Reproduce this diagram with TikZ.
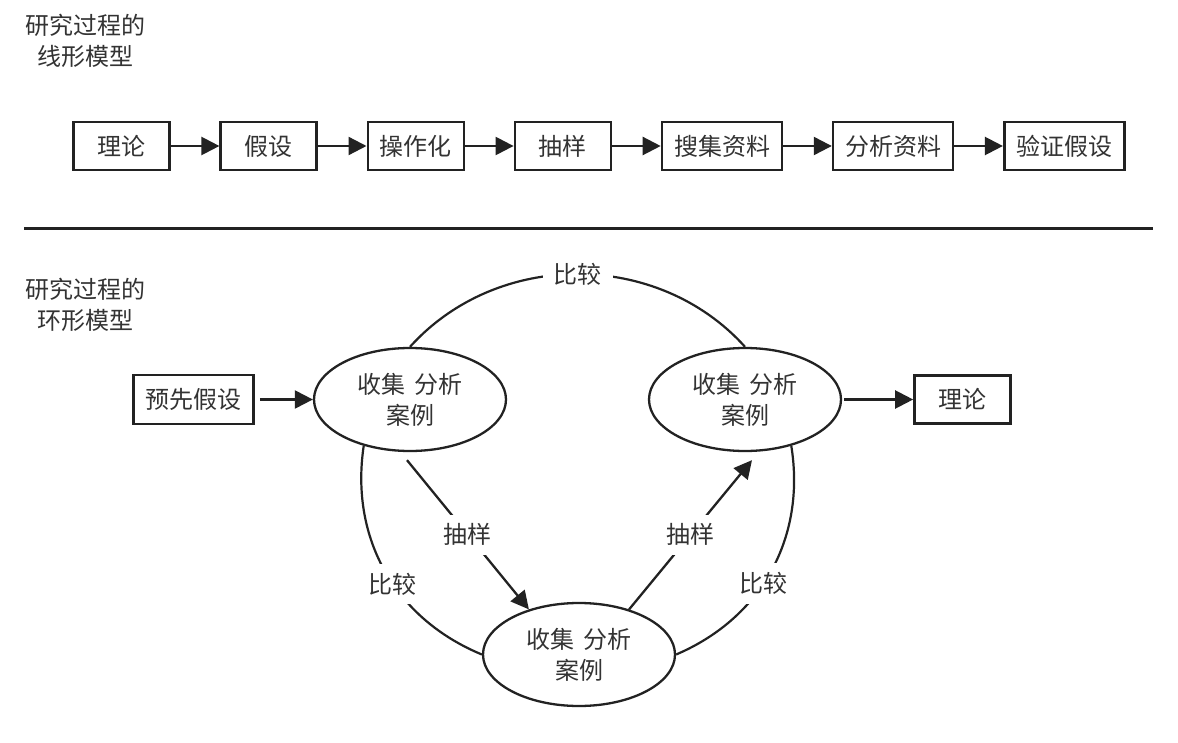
\documentclass[tikz,border=0pt]{standalone}
\usepackage{fontspec}
\setmainfont{Noto Sans CJK SC}
\usepackage{xcolor}
\definecolor{ink}{HTML}{222222}
\definecolor{txt}{HTML}{333333}
\usetikzlibrary{arrows.meta,positioning,shapes.geometric}

\begin{document}
\begin{tikzpicture}[x=1pt,y=1pt,
 node distance=48.5pt,
 font=\fontsize{24}{31}\selectfont,
 text=txt,
 stage/.style={draw=ink,line width=2.6pt,minimum width=96pt,minimum height=48pt,inner xsep=12pt,align=center},
 case/.style={draw=ink,ellipse,line width=2.3pt,minimum width=192pt,minimum height=103pt,inner sep=0pt,align=center},
 arr/.style={-{Triangle[length=18pt,width=18pt]},draw=ink,line width=2.3pt},
 link/.style={draw=ink,line width=2.2pt},
 tag/.style={fill=white,inner xsep=11pt,inner ysep=9pt}]
\useasboundingbox (0,0) rectangle (1178,-743);
% linear model
\node[align=center] (lintitle) at (85.5,-41) {研究过程的\\线形模型};
\node[stage] (theory) at (121.6,-146) {理论};
\node[stage,right=of theory] (hyp) {假设};
\node[stage,right=of hyp] (oper) {操作化};
\node[stage,right=of oper] (sample) {抽样};
\node[stage,right=of sample] (collect) {搜集资料};
\node[stage,right=of collect] (analyse) {分析资料};
\node[stage,right=of analyse] (verify) {验证假设};
\foreach \a/\b in {theory/hyp,hyp/oper,oper/sample,sample/collect,collect/analyse,analyse/verify}
  \draw[arr] (\a) -- (\b);
\draw[ink,line width=3pt] (24,-229) -- (1153,-229);
% ring model
\node[align=center] (ringtitle) at (85,-304.5) {研究过程的\\环形模型};
\node[case] (c1) at (410,-399.5) {收集\hspace{.35em}分析\\案例};
\node[case] (c2) at (745,-399.5) {收集\hspace{.35em}分析\\案例};
\node[case] (c3) at (579,-654.5) {收集\hspace{.35em}分析\\案例};
\node[stage,minimum height=49pt,left=58pt of c1] (prior) {预先假设};
\node[stage,right=71pt of c2] (theory2) {理论};
\draw[arr,shorten <=5pt] (prior) -- (c1);
\draw[arr,shorten <=2pt] (c2) -- (theory2);
\draw[arr] ([xshift=-3pt,yshift=-8pt]c1.south) -- node[tag] {抽样} (c3.138);
\draw[arr] (c3.42) -- node[tag] {抽样} ([xshift=7pt,yshift=-8pt]c2.south);
\draw[link] (c1.north) to[bend left=48] node[tag] {比较} (c2.north);
\draw[link] (c1.-135) to[bend right=38] node[tag,pos=.56] {比较} (c3.west);
\draw[link] (c2.-45) to[bend left=38] node[tag,pos=.56] {比较} (c3.east);
\end{tikzpicture}
\end{document}
